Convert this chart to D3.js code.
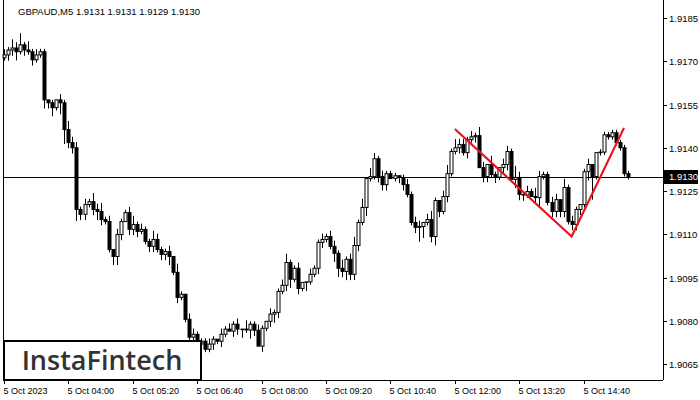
<!DOCTYPE html>
<html><head><meta charset="utf-8">
<script src="https://cdn.jsdelivr.net/npm/d3@7"></script>
<style>body{margin:0;background:#fff}svg{display:block}text{font-family:"Liberation Sans",Arial,sans-serif}</style>
</head><body><div id="chart"></div>
<script>
const closes = [
  1.91722,1.91739,1.91746,1.91733,1.91757,1.91739,1.91733,1.91705,1.91722,1.91733,
  1.91566,1.91556,1.91539,1.91566,1.91556,1.91463,1.91418,1.91400,1.91186,1.91169,
  1.91203,1.91213,1.91186,1.91179,1.91151,1.91144,1.91047,1.91023,1.91099,1.91144,
  1.91175,1.91117,1.91134,1.91110,1.91117,1.91075,1.91058,1.91082,1.91047,1.91030,
  1.91040,1.91023,1.90968,1.90881,1.90892,1.90805,1.90743,1.90753,1.90719,1.90729,
  1.90701,1.90719,1.90736,1.90729,1.90753,1.90771,1.90764,1.90788,1.90771,1.90771,
  1.90768,1.90788,1.90767,1.90712,1.90774,1.90798,1.90823,1.90829,1.90902,1.90923,
  1.91002,1.90944,1.90982,1.90912,1.90933,1.90935,1.90961,1.90982,1.91072,1.91082,
  1.91092,1.91058,1.91034,1.90982,1.90971,1.91013,1.90961,1.91061,1.91141,1.91193,
  1.91293,1.91300,1.91362,1.91300,1.91272,1.91310,1.91293,1.91303,1.91297,1.91272,
  1.91238,1.91141,1.91124,1.91127,1.91141,1.91151,1.91092,1.91217,1.91179,1.91231,
  1.91310,1.91387,1.91400,1.91411,1.91383,1.91428,1.91438,1.91442,1.91331,1.91300,
  1.91342,1.91307,1.91298,1.91331,1.91342,1.91387,1.91290,1.91297,1.91238,1.91236,
  1.91248,1.91231,1.91227,1.91300,1.91307,1.91210,1.91179,1.91220,1.91179,1.91262,
  1.91144,1.91134,1.91186,1.91203,1.91317,1.91342,1.91300,1.91383,1.91385,1.91445,
  1.91438,1.91452,1.91418,1.91400,1.91310,1.91300
];
const firstOpen = 1.91712;
// wick sizes in pips (0.0001), per candle
const upWick = "2132413121101021322121323120211231211321120310221112102121203112102112311200211212213123130321211101212202310231322121320310221421213211220312101200";
const dnWick = "1223121211323145224221232113320222112212231211221311212102231320212321231213112211332322213112220122112541232121121212022121220322102311222212221381";
const tickLabels = ["5 Oct 2023","5 Oct 04:00","5 Oct 05:20","5 Oct 06:40","5 Oct 08:00","5 Oct 09:20","5 Oct 10:40","5 Oct 12:00","5 Oct 13:20","5 Oct 14:40"];
const tickIdx = [0,16,32,48,64,80,96,112,128,144];
const priceTicks = [1.9065,1.9080,1.9095,1.9110,1.9125,1.9140,1.9155,1.9170,1.9185];
const patternPts = [[112,1.91465],[141,1.91092],[154,1.91469]];
const current = 1.9130;

const W = 700, H = 400, right = 663, bottom = 380;
const candles = closes.map((c, i) => {
  const o = i ? closes[i - 1] : firstOpen;
  const u = +(upWick[i] || 1) * 0.0001, d = +(dnWick[i] || 1) * 0.0001;
  return {i, o, c, h: Math.max(o, c) + u, l: Math.min(o, c) - d};
});
candles[155].o = 1.91310;

const x = d3.scaleLinear().domain([0, closes.length - 1]).range([4, 628]);
const y = d3.scaleLinear().domain([1.9065, 1.9185]).range([364, 18]);

const svg = d3.select("#chart").append("svg").attr("width", W).attr("height", H);

svg.append("line").attr("x1", 3.5).attr("x2", 3.5).attr("y1", 0).attr("y2", bottom).attr("stroke", "#000");
svg.append("line").attr("x1", 3).attr("x2", right).attr("y1", bottom + .5).attr("y2", bottom + .5).attr("stroke", "#000");
svg.append("line").attr("x1", right + .5).attr("x2", right + .5).attr("y1", 0).attr("y2", bottom).attr("stroke", "#000");

// current price line
svg.append("line").attr("x1", 3).attr("x2", right).attr("y1", Math.round(y(current)) + .5).attr("y2", Math.round(y(current)) + .5).attr("stroke", "#000");

const g = svg.append("g").selectAll("g").data(candles).enter().append("g");
g.append("line")
  .attr("x1", d => Math.round(x(d.i)) + .5).attr("x2", d => Math.round(x(d.i)) + .5)
  .attr("y1", d => y(d.h)).attr("y2", d => y(d.l)).attr("stroke", "#000");
g.append("rect")
  .attr("x", d => Math.round(x(d.i)) - 1).attr("width", 3)
  .attr("y", d => y(Math.max(d.o, d.c)))
  .attr("height", d => Math.max(0.5, Math.abs(y(d.o) - y(d.c))))
  .attr("fill", d => d.c >= d.o ? "#fff" : "#000").attr("stroke", "#000").attr("stroke-width", 1);

// pattern lines
svg.append("path")
  .attr("d", d3.line().x(d => x(d[0])).y(d => y(d[1]))(patternPts))
  .attr("fill", "none").attr("stroke", "#e8141a").attr("stroke-width", 2.2);

// price axis
const pt = svg.append("g").selectAll("g").data(priceTicks).enter().append("g")
  .attr("transform", d => `translate(${right},${Math.round(y(d)) + .5})`);
pt.append("line").attr("x2", 4).attr("stroke", "#000");
pt.append("text").attr("x", 6).attr("dy", "0.35em").attr("font-size", 9.5).text(d => d.toFixed(4));

const cp = svg.append("g").attr("transform", `translate(${right + 1},${Math.round(y(current))})`);
cp.append("rect").attr("y", -7).attr("width", 34).attr("height", 14).attr("fill", "#000");
cp.append("text").attr("x", 5).attr("dy", "0.35em").attr("font-size", 9.5).attr("fill", "#fff").text(current.toFixed(4));

// time axis
const tt = svg.append("g").selectAll("g").data(tickIdx).enter().append("g")
  .attr("transform", d => `translate(${Math.round(x(d)) + .5},${bottom})`);
tt.append("line").attr("y2", 4).attr("stroke", "#000");
tt.append("text").attr("x", -1).attr("y", 14).attr("font-size", 9).text((d, i) => tickLabels[i]);

svg.append("text").attr("x", 18).attr("y", 15).attr("font-size", 9.5)
  .text("GBPAUD,M5  1.9131 1.9131 1.9129 1.9130");

// logo
svg.append("rect").attr("x", 4).attr("y", 341).attr("width", 197).attr("height", 39)
  .attr("fill", "#fff").attr("stroke", "#000").attr("stroke-width", 2);
svg.append("text").attr("x", 102).attr("y", 370).attr("text-anchor", "middle")
  .attr("font-size", 27).attr("font-weight", 600).attr("fill", "#333").style("font-family", "'Open Sans',sans-serif")
  .text("InstaFintech");
</script></body></html>
